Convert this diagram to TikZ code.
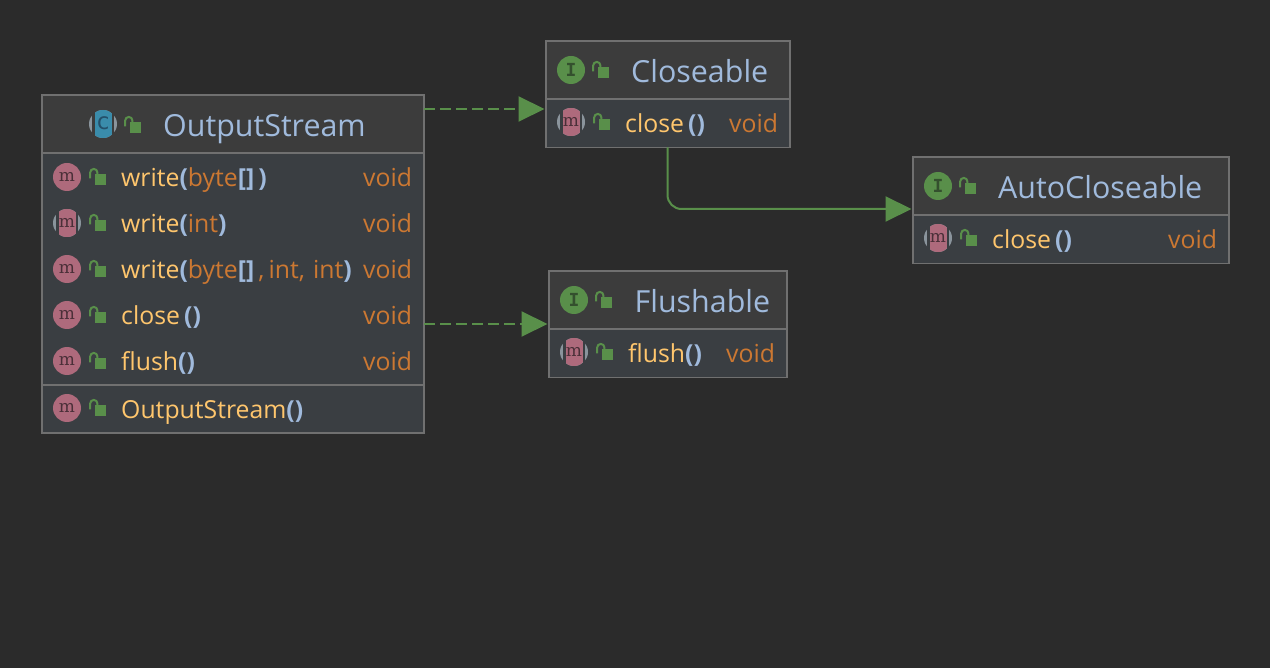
\documentclass[tikz,border=0pt]{standalone}
\usepackage{fontspec}
\setmainfont{Open Sans}
\newfontfamily\iconf{DejaVu Sans Mono}
\newfontfamily\iconm{DejaVu Serif}
\usetikzlibrary{arrows.meta}
\definecolor{bgc}{HTML}{2B2B2B}
\definecolor{headc}{HTML}{3C3C3C}
\definecolor{bodyc}{HTML}{3A3E42}
\definecolor{edgec}{HTML}{707070}
\definecolor{yel}{HTML}{FFC66D}
\definecolor{org}{HTML}{CC7832}
\definecolor{blu}{HTML}{A0BADC}
\definecolor{grn}{HTML}{598F4A}
\definecolor{pnk}{HTML}{AE6A7C}
\definecolor{cyn}{HTML}{3A8CAB}
\definecolor{gry}{HTML}{8A949C}
\definecolor{mink}{HTML}{4A2F38}
\definecolor{iink}{HTML}{34502E}
\definecolor{cink}{HTML}{24506A}
\tikzset{
  x=1pt,y=-1pt,
  frame/.style={draw=edgec,line width=1.4pt,fill=none,anchor=north west,inner sep=0pt,outer sep=0pt},
  sepline/.style={draw=edgec,line width=1.4pt},
  titletext/.style={anchor=base west,inner sep=0pt,text=blu,font=\fontsize{30.4}{30}\selectfont},
  membertext/.style={anchor=base west,inner sep=0pt,font=\fontsize{24.8}{24}\selectfont},
  icontext/.style={inner sep=0pt,text=mink,font=\fontsize{17}{17}\iconm\selectfont},
  itext/.style={inner sep=0pt,text=iink,font=\fontsize{18}{18}\iconf\bfseries\selectfont},
  ctext/.style={inner sep=0pt,text=cink,font=\fontsize{23}{23}\iconf\selectfont},
  rel/.style={draw=grn,line width=2pt},
  reldash/.style={rel,dash pattern=on 11pt off 5pt},
  tip/.style={-{Triangle[length=26pt,width=25pt,fill=grn]},shorten >=1.5pt},
}
\newcommand{\ylw}[1]{\textcolor{yel}{#1}}
\newcommand{\orn}[1]{\textcolor{org}{#1}}
\newcommand{\bl}[1]{\textcolor{blu}{\bfseries #1}}
% lock icon, given the centre of the icon slot
\newcommand{\lockicon}[2]{%
  \fill[grn] (#1-3.2,#2-3) rectangle (#1+8,#2+8);
  \draw[grn,line width=2pt] (#1-7.8,#2+1.5) -- (#1-7.8,#2-4.5) arc[start angle=180,end angle=360,radius=3.6] -- (#1-0.6,#2-2.5);
}
\newcommand{\micon}[3]{% name x y
  \fill[pnk] (#2,#3) circle[radius=14];
  \node[icontext] (#1) at (#2,#3) {m};
  \lockicon{#2+31}{#3}
}
\newcommand{\mstripe}[3]{%
  \fill[gry] (#2,#3) circle[radius=14];
  \begin{scope}
    \clip (#2,#3) circle[radius=14];
    \fill[pnk] (#2-8.5,#3-14) rectangle (#2+8.5,#3+14);
  \end{scope}
  \fill[bodyc] (#2-11,#3-14) rectangle (#2-8.5,#3+14);
  \fill[bodyc] (#2+8.5,#3-14) rectangle (#2+11,#3+14);
  \node[icontext] (#1) at (#2,#3) {m};
  \lockicon{#2+31}{#3}
}
\begin{document}
\begin{tikzpicture}
\useasboundingbox[fill=bgc] (0,0) rectangle (1270,668);

% OutputStream
\fill[headc] (42,95) rectangle (424,153);
\fill[bodyc] (42,153) rectangle (424,433);
\node[frame,minimum width=382pt,minimum height=338pt] (os) at (42,95) {};
\draw[sepline] (os.west |- 0,153) -- (os.east |- 0,153);
\draw[sepline] (os.west |- 0,385) -- (os.east |- 0,385);
\fill[gry] (103,124) circle[radius=14];
\begin{scope}
  \clip (103,124) circle[radius=14];
  \fill[cyn] (94.5,110) rectangle (111.5,138);
\end{scope}
\fill[headc] (92,110) rectangle (94.5,138);
\fill[headc] (111.5,110) rectangle (114,138);
\node[ctext] (osc) at (103,123) {c};
\lockicon{133}{125}
\node[titletext] (ost) at (163,137) {OutputStream};

\micon{m1}{67}{177}
\node[membertext] (t1) at (121,187) {\ylw{write}\bl{(}\orn{byte}\bl{[]\,)}};
\node[membertext,text=org] (v1) at (363,187) {void};
\mstripe{m2}{67}{223}
\node[membertext] (t2) at (121,233) {\ylw{write}\bl{(}\orn{int}\bl{)}};
\node[membertext,text=org] (v2) at (363,233) {void};
\micon{m3}{67}{269}
\node[membertext] (t3) at (121,279) {\ylw{write}\bl{(}\orn{byte}\bl{[]}\,\orn{,\,int,\,\,int}\bl{)}};
\node[membertext,text=org] (v3) at (363,279) {void};
\micon{m4}{67}{315}
\node[membertext] (t4) at (121,325) {\ylw{close}\,\bl{()}};
\node[membertext,text=org] (v4) at (363,325) {void};
\micon{m5}{67}{361}
\node[membertext] (t5) at (121,371) {\ylw{flush}\bl{()}};
\node[membertext,text=org] (v5) at (363,371) {void};
\micon{m6}{67}{408}
\node[membertext] (t6) at (121,418) {\ylw{OutputStream}\bl{()}};

% Closeable
\fill[headc] (546,41) rectangle (790,99);
\fill[bodyc] (546,99) rectangle (790,147);
\node[frame,minimum width=244pt,minimum height=106.5pt] (cl) at (546,41) {};
\draw[sepline] (cl.west |- 0,99) -- (cl.east |- 0,99);
\fill[grn] (571,70) circle[radius=14];
\node[itext] (cli) at (571,70) {I};
\lockicon{601}{70}
\node[titletext] (clt) at (631,83) {Closeable};
\mstripe{m7}{571}{122}
\node[membertext] (t7) at (625,133) {\ylw{close}\,\bl{()}};
\node[membertext,text=org] (v7) at (729,133) {void};

% AutoCloseable
\fill[headc] (913,157) rectangle (1229,215);
\fill[bodyc] (913,215) rectangle (1229,263);
\node[frame,minimum width=316pt,minimum height=106.5pt] (ac) at (913,157) {};
\draw[sepline] (ac.west |- 0,215) -- (ac.east |- 0,215);
\fill[grn] (938,186) circle[radius=14];
\node[itext] (aci) at (938,186) {I};
\lockicon{968}{186}
\node[titletext] (act) at (998,199) {AutoCloseable};
\mstripe{m8}{938}{238}
\node[membertext] (t8) at (992,249) {\ylw{close}\,\bl{()}};
\node[membertext,text=org] (v8) at (1168,249) {void};

% Flushable
\fill[headc] (549,271) rectangle (787,329);
\fill[bodyc] (549,329) rectangle (787,377);
\node[frame,minimum width=238pt,minimum height=106.5pt] (fl) at (549,271) {};
\draw[sepline] (fl.west |- 0,329) -- (fl.east |- 0,329);
\fill[grn] (574,300) circle[radius=14];
\node[itext] (fli) at (574,300) {I};
\lockicon{604}{300}
\node[titletext] (flt) at (634.5,313) {Flushable};
\mstripe{m9}{574}{352}
\node[membertext] (t9) at (628,363) {\ylw{flush}\bl{()}};
\node[membertext,text=org] (v9) at (726,363) {void};

% connectors
\coordinate (a1) at (os.east |- 0,109);
\coordinate (a2) at (cl.west |- 0,109);
\coordinate (b1) at (os.east |- 0,324);
\coordinate (b2) at (fl.west |- 0,324);
\coordinate (c1) at (cl.south -| 667.5,0);
\coordinate (c2) at (ac.west |- 0,209);
\draw[reldash,tip] (a1) -- (a2);
\draw[reldash,tip] (b1) -- (b2);
\draw[rel,tip,rounded corners=14pt] (c1) |- (c2);
\end{tikzpicture}
\end{document}
